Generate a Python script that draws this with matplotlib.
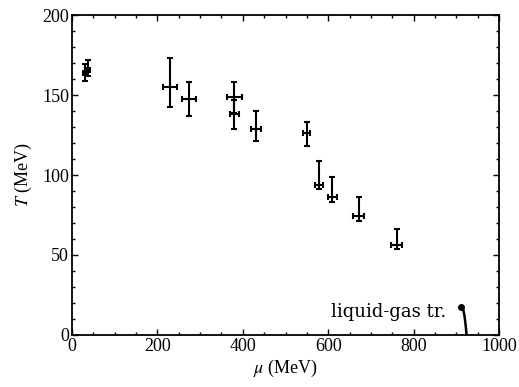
import matplotlib
matplotlib.use("Agg")
import matplotlib.pyplot as plt
from matplotlib.ticker import MultipleLocator

plt.rcParams['font.family'] = ['Liberation Serif', 'DejaVu Serif']
plt.rcParams['mathtext.fontset'] = 'stix'

mu = [30, 38, 230, 274, 380, 380, 431, 550, 578, 610, 671, 760]
mu_err = [5, 5, 17, 17, 17, 11, 11, 8, 10, 10, 12, 13]
T = [163.5, 165.5, 155, 147.5, 149, 138, 129, 126.5, 94, 86, 74.5, 56]
T_err_up = [6, 6.5, 18, 10.5, 9, 9, 11, 6.5, 14.5, 12.5, 11.5, 10]
T_err_lo = [5, 3.5, 12.5, 10.5, 10, 9, 8, 8.5, 3, 3, 3.5, 2]

lg_mu = [910, 913, 916.4, 918.8, 920.4, 922.5, 924]
lg_T = [17.7, 17.0, 15.6, 12.5, 9.4, 4.5, 0]

fig = plt.figure(figsize=(5.19, 3.87), dpi=100)
ax = fig.add_axes([0.1387, 0.1344, 0.9615 - 0.1387, 0.9612 - 0.1344])

ax.errorbar(mu, T, xerr=mu_err, yerr=[T_err_lo, T_err_up], fmt='none',
            ecolor='black', elinewidth=1.5, capsize=2.2, capthick=1.5)
ax.plot(lg_mu, lg_T, color='black', lw=1.8)
ax.plot([lg_mu[0]], [lg_T[0]], 'o', color='black', ms=4)
ax.text(876, 14.5, 'liquid-gas tr.', ha='right', va='center', fontsize=13,
        family=['DejaVu Serif'])

ax.set_xlim(0, 1000)
ax.set_ylim(0, 200)
ax.xaxis.set_major_locator(MultipleLocator(200))
ax.xaxis.set_minor_locator(MultipleLocator(50))
ax.yaxis.set_major_locator(MultipleLocator(50))
ax.yaxis.set_minor_locator(MultipleLocator(10))
ax.tick_params(which='both', direction='in', top=True, right=True, width=1.0)
ax.tick_params(which='major', length=4, labelsize=13, pad=2)
ax.tick_params(which='minor', length=2.2)
for s in ax.spines.values():
    s.set_linewidth(1.3)

ax.set_xlabel(r'$\mu$ (MeV)', fontsize=13, labelpad=2)
ax.set_ylabel(r'$T$ (MeV)', fontsize=13, labelpad=6)

fig.savefig('out.png', dpi=100)
